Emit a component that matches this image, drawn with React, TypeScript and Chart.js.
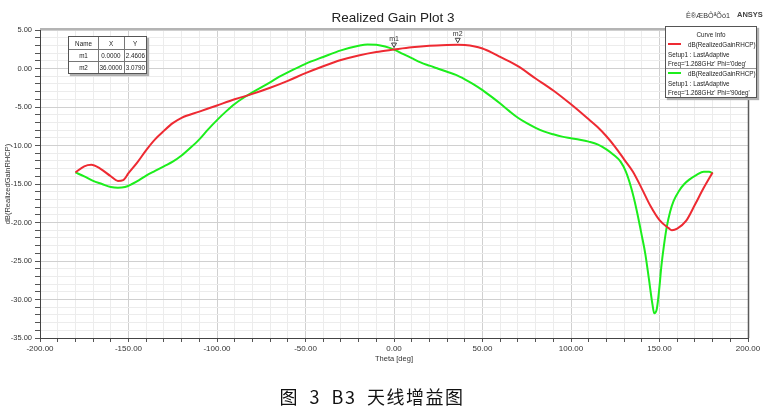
import React, { useEffect, useRef } from "react";
import { Chart, registerables } from "chart.js";

Chart.register(...registerables);

// Theta [deg] / dB(RealizedGainRHCP), Phi = 0deg (red)
const thetaPhi0 = [
  -180, -175, -171, -166, -160, -156, -153, -150, -145, -140, -135, -130, -125, -120,
  -110, -100, -90, -80, -70, -60, -50, -40, -30, -20, -10, 0, 10, 20, 30, 36, 40, 45,
  50, 55, 60, 70, 80, 90, 100, 110, 115, 120, 125, 130, 135, 140, 145, 150, 155, 157,
  160, 165, 170, 175, 180,
];
const gainPhi0 = [
  -13.5, -12.7, -12.5, -13.0, -14.0, -14.6, -14.5, -13.6, -12.2, -10.6, -9.2, -8.1, -7.1, -6.4,
  -5.6, -4.8, -4.0, -3.3, -2.5, -1.6, -0.6, 0.3, 1.1, 1.7, 2.15, 2.46, 2.75, 2.95, 3.05, 3.08, 3.04, 2.9,
  2.6, 2.1, 1.5, 0.3, -1.3, -2.85, -4.65, -6.6, -7.6, -8.8, -10.2, -11.8, -13.4, -15.6, -17.9, -19.7, -20.7, -21.0,
  -20.8, -19.8, -17.7, -15.5, -13.5,
];

// Theta [deg] / dB(RealizedGainRHCP), Phi = 90deg (green)
const thetaPhi90 = [
  -180, -175, -170, -165, -160, -156, -152, -148, -144, -140, -135, -130, -125, -120,
  -115, -110, -105, -100, -95, -90, -85, -80, -70, -65, -60, -50, -40, -30, -20, -15,
  -10, -5, 0, 5, 10, 15, 20, 25, 30, 35, 40, 45, 50, 55, 60, 65, 70, 75, 80, 85, 90,
  95, 100, 105, 110, 115, 120, 124, 128, 131, 134, 137, 140, 142, 144, 146, 147, 148.5,
  150, 151, 152.5, 154, 156, 158, 161, 164, 167, 171, 175, 178, 180,
];
const gainPhi90 = [
  -13.5, -14.0, -14.6, -15.0, -15.4, -15.5, -15.4, -15.0, -14.5, -13.9, -13.3, -12.7, -12.1, -11.3,
  -10.3, -9.2, -7.9, -6.7, -5.6, -4.6, -3.8, -3.1, -1.8, -1.1, -0.5, 0.6, 1.5, 2.35, 2.95, 3.12,
  3.08, 2.85, 2.46, 1.9, 1.35, 0.8, 0.37, -0.03, -0.43, -0.83, -1.4, -2.05, -2.8, -3.65, -4.55, -5.5, -6.4, -7.1, -7.7, -8.2, -8.55,
  -8.85, -9.05, -9.25, -9.5, -9.85, -10.5, -11.2, -12.1, -13.4, -15.5, -18.3, -21.7, -24.1, -27.3, -30.6, -31.8, -31.2,
  -28.3, -25.8, -23.0, -20.7, -18.6, -17.2, -15.9, -15.0, -14.4, -13.8, -13.4, -13.4, -13.6,
];

const markerNames = ["m1", "m2"];
const markerTheta = [0, 36];
const markerGain = [2.4606, 3.079];
const markerXText = ["0.0000", "36.0000"];
const markerYText = ["2.4606", "3.0790"];

const xMin = -200;
const xMax = 200;
const xStep = 10;
const xMajor = 50;
const yMin = -35;
const yMax = 5;
const yStep = 1;
const yMajor = 5;

const RED = "rgb(238,42,50)";
const GREEN = "rgb(28,238,28)";
const FONT = "'Liberation Sans', Arial, sans-serif";

export default function App() {
  const ref = useRef<HTMLCanvasElement>(null);

  useEffect(() => {
    document.body.style.margin = "0";
    const canvas = ref.current;
    if (!canvas) return;

    const framePlugin = {
      id: "frame",
      afterDraw(chart: any) {
        const { top, right, left, bottom } = chart.chartArea;
        const c = chart.ctx;
        c.save();
        c.strokeStyle = "#b4b4b4";
        c.lineWidth = 2;
        c.beginPath();
        c.moveTo(left, top - 1);
        c.lineTo(right, top - 1);
        c.stroke();
        c.strokeStyle = "#5a5a5a";
        c.lineWidth = 1.5;
        c.beginPath();
        c.moveTo(right + 0.5, top - 2);
        c.lineTo(right + 0.5, bottom);
        c.stroke();
        c.restore();
      },
    };

    const markerPlugin = {
      id: "markers",
      afterDatasetsDraw(chart: any) {
        const c = chart.ctx;
        const xs = chart.scales.x;
        const ys = chart.scales.y;
        markerNames.forEach((name, i) => {
          const px = xs.getPixelForValue(markerTheta[i]);
          const py = ys.getPixelForValue(markerGain[i]);
          c.save();
          c.strokeStyle = "#444";
          c.lineWidth = 1;
          c.beginPath();
          c.moveTo(px - 2.5, py - 6.5);
          c.lineTo(px + 2.5, py - 6.5);
          c.lineTo(px, py - 2);
          c.closePath();
          c.stroke();
          c.fillStyle = "#333";
          c.font = `7px ${FONT}`;
          c.textAlign = "center";
          c.textBaseline = "bottom";
          c.fillText(name, px, py - 7);
          c.restore();
        });
      },
    };

    const chart = new Chart(canvas, {
      type: "line",
      data: {
        datasets: [
          {
            label: "Phi='0deg'",
            data: thetaPhi0.map((t, i) => ({ x: t, y: gainPhi0[i] })),
            borderColor: RED,
            borderWidth: 2,
            pointRadius: 0,
            cubicInterpolationMode: "monotone",
            fill: false,
          },
          {
            label: "Phi='90deg'",
            data: thetaPhi90.map((t, i) => ({ x: t, y: gainPhi90[i] })),
            borderColor: GREEN,
            borderWidth: 2,
            pointRadius: 0,
            cubicInterpolationMode: "monotone",
            fill: false,
          },
        ],
      },
      options: {
        animation: false,
        responsive: false,
        devicePixelRatio: 1,
        layout: { padding: { top: 30, right: 20, left: 0, bottom: 0 } },
        plugins: {
          legend: { display: false },
          title: { display: false },
          tooltip: { enabled: false },
        },
        scales: {
          x: {
            type: "linear",
            min: xMin,
            max: xMax,
            afterFit: (s: any) => {
              s.height = 75;
            },
            ticks: {
              stepSize: xStep,
              autoSkip: false,
              maxRotation: 0,
              padding: 2,
              color: "#333",
              font: { family: FONT, size: 8 },
              callback: (v: any) => (Number(v) % xMajor === 0 ? Number(v).toFixed(2) : ""),
            },
            grid: {
              color: (ctx: any) =>
                ctx.tick && ctx.tick.value % xMajor === 0 ? "#d0d0d0" : "#ececec",
              lineWidth: 1,
              tickLength: 4,
              tickColor: "#555",
            },
            border: { color: "#444", width: 1 },
            title: {
              display: true,
              text: "Theta [deg]",
              color: "#333",
              font: { family: FONT, size: 7.5 },
              padding: { top: 0, bottom: 50 },
            },
          },
          y: {
            type: "linear",
            min: yMin,
            max: yMax,
            afterFit: (s: any) => {
              s.width = 40;
            },
            ticks: {
              stepSize: yStep,
              autoSkip: false,
              padding: 3,
              color: "#333",
              font: { family: FONT, size: 7.5 },
              callback: (v: any) => (Number(v) % yMajor === 0 ? Number(v).toFixed(2) : ""),
            },
            grid: {
              color: (ctx: any) =>
                ctx.tick && ctx.tick.value % yMajor === 0 ? "#d0d0d0" : "#ececec",
              lineWidth: 1,
              tickLength: 5,
              tickColor: "#555",
            },
            border: { color: "#444", width: 1 },
            title: {
              display: true,
              text: "dB(RealizedGainRHCP)",
              color: "#333",
              font: { family: FONT, size: 7.5 },
              padding: { top: 3, bottom: 0 },
            },
          },
        },
      },
      plugins: [framePlugin, markerPlugin],
    } as any);

    return () => chart.destroy();
  }, []);

  const small: React.CSSProperties = {
    position: "absolute",
    fontFamily: FONT,
    fontSize: 6.3,
    color: "#222",
    whiteSpace: "nowrap",
    lineHeight: "9px",
  };

  const cell = (text: string, left: number, top: number, width: number) => (
    <div style={{ ...small, left, top, width, textAlign: "center" }}>{text}</div>
  );

  return (
    <div style={{ position: "relative", width: 768, height: 413, background: "#fff", overflow: "hidden" }}>
      <canvas ref={ref} width={768} height={413} style={{ position: "absolute", left: 0, top: 0, width: 768, height: 413 }} />

      <div
        style={{
          position: "absolute",
          left: 293,
          width: 200,
          top: 10,
          textAlign: "center",
          fontFamily: FONT,
          fontSize: 13.5,
          color: "#222",
          lineHeight: "16px",
        }}
      >
        Realized Gain Plot 3
      </div>
      <div style={{ ...small, left: 686, top: 11, fontSize: 7.2, lineHeight: "10px", color: "#333" }}>Ê®ÆBÔªÕó1</div>
      <div style={{ ...small, left: 737, top: 10, fontSize: 7.5, lineHeight: "10px", fontWeight: 700, color: "#444" }}>ANSYS</div>

      {/* marker table */}
      <div
        style={{
          position: "absolute",
          left: 68,
          top: 36,
          width: 77,
          height: 36,
          border: "1px solid #555",
          background: "#fff",
          boxShadow: "2px 2px 1px #b0b0b0",
        }}
      >
        <div style={{ position: "absolute", left: 29, top: 0, width: 0, height: 36, borderLeft: "1px solid #777" }} />
        <div style={{ position: "absolute", left: 55, top: 0, width: 0, height: 36, borderLeft: "1px solid #777" }} />
        <div style={{ position: "absolute", left: 0, top: 12, width: 77, height: 0, borderTop: "1px solid #777" }} />
        <div style={{ position: "absolute", left: 0, top: 24, width: 77, height: 0, borderTop: "1px solid #777" }} />
        {cell("Name", 0, 2, 29)}
        {cell("X", 29, 2, 26)}
        {cell("Y", 55, 2, 22)}
        {markerNames.map((n, i) => (
          <React.Fragment key={n}>
            {cell(n, 0, 14 + i * 12, 29)}
            {cell(markerXText[i], 29, 14 + i * 12, 26)}
            {cell(markerYText[i], 55, 14 + i * 12, 23)}
          </React.Fragment>
        ))}
      </div>

      {/* curve info */}
      <div
        style={{
          position: "absolute",
          left: 665,
          top: 26,
          width: 90,
          height: 70,
          border: "1px solid #555",
          background: "#fff",
          boxShadow: "2px 2px 1px #b0b0b0",
        }}
      >
        <div style={{ ...small, left: 0, top: 3, width: 90, textAlign: "center" }}>Curve Info</div>
        <div style={{ position: "absolute", left: 2, top: 16, width: 13, height: 2, background: RED }} />
        <div style={{ ...small, left: 22, top: 13 }}>dB(RealizedGainRHCP)</div>
        <div style={{ ...small, left: 2, top: 23 }}>Setup1 : LastAdaptive</div>
        <div style={{ ...small, left: 2, top: 32 }}>Freq='1.268GHz' Phi='0deg'</div>
        <div style={{ position: "absolute", left: 0, top: 41, width: 90, height: 0, borderTop: "1px solid #999" }} />
        <div style={{ position: "absolute", left: 2, top: 45, width: 13, height: 2, background: GREEN }} />
        <div style={{ ...small, left: 22, top: 42 }}>dB(RealizedGainRHCP)</div>
        <div style={{ ...small, left: 2, top: 52 }}>Setup1 : LastAdaptive</div>
        <div style={{ ...small, left: 2, top: 61 }}>Freq='1.268GHz' Phi='90deg'</div>
      </div>

      {/* caption */}
      <div
        style={{
          position: "absolute",
          left: 0,
          width: 744,
          top: 385,
          textAlign: "center",
          fontFamily: "'Noto Sans CJK SC', serif",
          fontSize: 18,
          lineHeight: "22px",
          color: "#111",
          letterSpacing: 1.5,
          wordSpacing: 5,
        }}
      >
        图 3 B3 天线增益图
      </div>
    </div>
  );
}
